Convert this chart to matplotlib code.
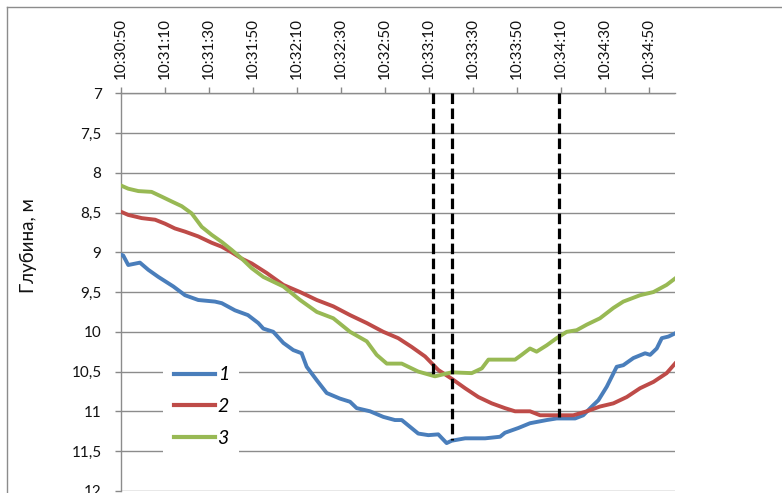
import matplotlib
matplotlib.use("Agg")
import matplotlib.pyplot as plt
from matplotlib.ticker import FuncFormatter, MultipleLocator
from matplotlib.lines import Line2D

plt.rcParams['font.family'] = ['Lato', 'Open Sans', 'DejaVu Sans']

# time in seconds after 10:30:50
start_clock = (10, 30, 50)
tick_step_s = 20

t_blue = [0, 1.0, 3.3, 8.6, 12.4, 17.0, 23.8, 29.1, 35.1, 42.7, 45.8, 51.8, 57.7, 62.4, 64.7,
          69.2, 73.8, 78.3, 82.1, 84.4, 89.0, 93.5, 99.5, 104.1, 107.1, 113.2, 119.2, 124.5,
          127.6, 135.1, 139.7, 144.2, 148.0, 150.3, 156.4, 165.5, 172.3, 174.5, 180.6, 185.9,
          193.5, 198.0, 206.4, 210.1, 214.0, 217.0, 220.8, 225.3, 228.3, 232.9, 238.2, 240.5,
          243.5, 245.8, 248.8, 251.8]
d_blue = [9.03, 9.04, 9.16, 9.13, 9.22, 9.31, 9.43, 9.54, 9.60, 9.62, 9.64, 9.73, 9.79, 9.89, 9.96,
          10.0, 10.14, 10.23, 10.27, 10.44, 10.61, 10.77, 10.84, 10.88, 10.96, 11.0, 11.07, 11.11,
          11.11, 11.28, 11.30, 11.29, 11.40, 11.37, 11.34, 11.34, 11.32, 11.27, 11.21, 11.15,
          11.11, 11.09, 11.09, 11.05, 10.94, 10.86, 10.69, 10.44, 10.42, 10.33, 10.27, 10.29,
          10.21, 10.08, 10.06, 10.02]

t_red = [0, 3.3, 6.4, 9.4, 15.5, 20.0, 24.5, 29.1, 35.1, 41.2, 45.8, 50.3, 54.9, 59.4, 66.2,
         73.8, 81.4, 89.0, 96.5, 104.1, 111.7, 119.2, 126.0, 132.1, 138.2, 144.2, 150.3, 156.4,
         162.4, 168.5, 174.5, 179.1, 185.9, 190.5, 205.6, 211.7, 217.7, 223.8, 229.9, 235.9,
         242.0, 248.0, 251.8]
d_red = [8.49, 8.53, 8.55, 8.57, 8.59, 8.64, 8.70, 8.74, 8.80, 8.88, 8.93, 9.0, 9.08, 9.14, 9.26,
         9.41, 9.50, 9.60, 9.68, 9.79, 9.89, 10.0, 10.08, 10.19, 10.31, 10.48, 10.59, 10.71,
         10.82, 10.90, 10.96, 11.0, 11.0, 11.05, 11.05, 11.0, 10.94, 10.90, 10.82, 10.71,
         10.63, 10.52, 10.40]

t_green = [0, 3.3, 7.9, 13.9, 18.5, 23.0, 27.6, 32.1, 36.7, 41.2, 45.8, 50.3, 54.9, 59.4, 64.7,
           73.8, 81.4, 89.0, 96.5, 104.1, 111.7, 116.2, 120.8, 127.6, 132.1, 135.1, 142.7,
           150.3, 159.4, 164.0, 167.0, 173.0, 179.1, 182.1, 185.9, 188.9, 193.5, 198.0, 202.6,
           207.1, 211.7, 217.7, 223.8, 228.3, 235.9, 242.0, 248.0, 251.8]
d_green = [8.16, 8.20, 8.23, 8.24, 8.30, 8.36, 8.42, 8.51, 8.68, 8.78, 8.87, 8.97, 9.08, 9.20, 9.31,
           9.43, 9.60, 9.75, 9.83, 10.0, 10.12, 10.29, 10.40, 10.40, 10.46, 10.50, 10.56,
           10.51, 10.52, 10.46, 10.35, 10.35, 10.35, 10.29, 10.21, 10.25, 10.17, 10.08, 10.0,
           9.98, 9.91, 9.83, 9.70, 9.62, 9.54, 9.50, 9.41, 9.33]

marker_times = [142.0, 150.5, 199.0]
marker_depths = [10.55, 11.36, 11.07]

series_labels = ['1', '2', '3']
y_label = 'Глубина, м'

colors = ['#4A7EBB', '#BE4B48', '#98B954']

fig = plt.figure(figsize=(7.82, 4.93), dpi=100)
W, H = 782, 493
ax = fig.add_axes([121 / W, 1 - 490.8 / H, 554 / W, 397.5 / H])

for t, d, c, lab in zip([t_blue, t_red, t_green], [d_blue, d_red, d_green], colors, series_labels):
    ax.plot(t, d, color=c, lw=2.8, label=lab, solid_joinstyle='round', zorder=3)

ax.vlines(marker_times, 7, marker_depths, colors='black', lw=2.3,
          linestyles=(0, (3.3, 1.4)), zorder=4)

ax.set_xlim(0, 251.8)
ax.set_ylim(12, 7)
ax.yaxis.set_major_locator(MultipleLocator(0.5))
ax.xaxis.set_major_locator(MultipleLocator(tick_step_s))


def fmt_time(v, pos):
    h, m, s = start_clock
    total = h * 3600 + m * 60 + s + int(round(v))
    return f"{total // 3600}:{(total % 3600) // 60:02d}:{total % 60:02d}"


def fmt_depth(v, pos):
    s = f"{v:g}"
    return s.replace('.', ',')


ax.xaxis.set_major_formatter(FuncFormatter(fmt_time))
ax.yaxis.set_major_formatter(FuncFormatter(fmt_depth))
ax.xaxis.tick_top()
ax.tick_params(axis='x', which='major', direction='out', length=4, width=1, color='#888888',
               labelsize=11, pad=6, labelrotation=90, labelcolor='#111111')
ax.tick_params(axis='y', which='major', direction='out', length=4, width=1, color='#888888',
               labelsize=11, pad=10, labelcolor='#111111')
ax.tick_params(axis='x', which='both', bottom=False)

ax.grid(axis='y', color='#8c8c8c', lw=1)
ax.set_axisbelow(True)
for side in ['right', 'bottom']:
    ax.spines[side].set_visible(False)
for side in ['left', 'top']:
    ax.spines[side].set_color('#8c8c8c')
    ax.spines[side].set_linewidth(1)

ax.set_ylabel(y_label, fontsize=13.5, color='#111111')
ax.yaxis.set_label_coords(-0.152, 0.616)

leg = ax.legend(loc='upper left', bbox_to_anchor=(0.076, 0.34), frameon=True, fancybox=False,
                prop={'style': 'italic', 'size': 14}, handlelength=2.1, handletextpad=0.15,
                labelspacing=0.75, borderpad=0.55, borderaxespad=0)
leg.get_frame().set_facecolor('white')
leg.get_frame().set_edgecolor('none')
leg.get_frame().set_alpha(1)
for line in leg.get_lines():
    line.set_linewidth(3)

# outer chart frame (top and left visible)
fig.add_artist(Line2D([7 / W, 1.0], [1 - 7 / H, 1 - 7 / H], transform=fig.transFigure,
                      color='#8c8c8c', lw=1))
fig.add_artist(Line2D([7 / W, 7 / W], [0, 1 - 7 / H], transform=fig.transFigure,
                      color='#8c8c8c', lw=1))

fig.savefig('out.png', dpi=100)
